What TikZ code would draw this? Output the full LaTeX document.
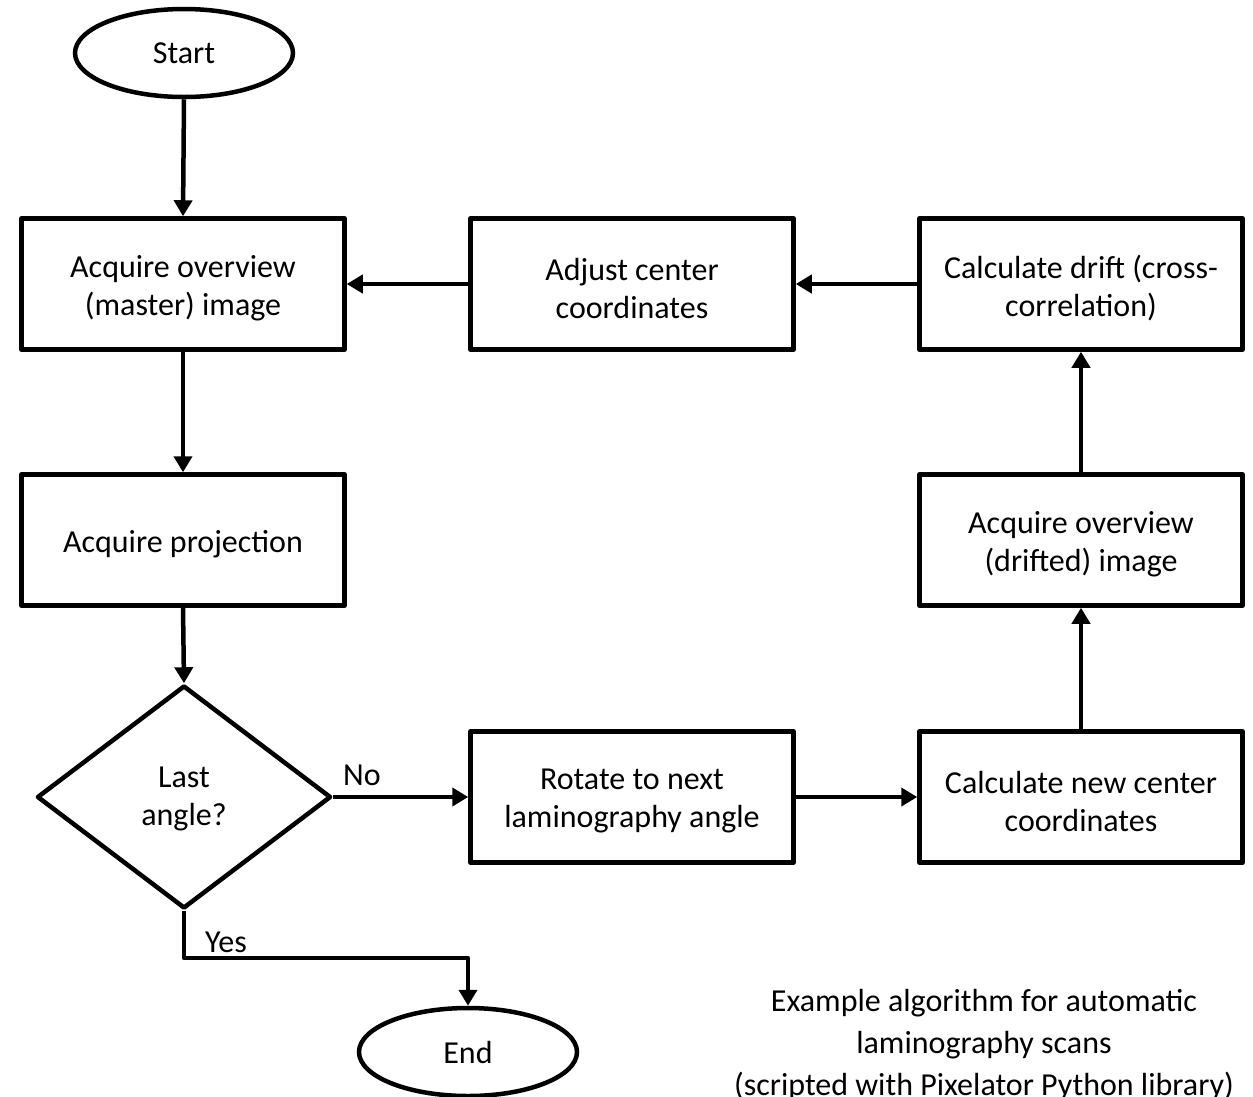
\documentclass[tikz,border=0pt]{standalone}
\usepackage{fontspec}
\setmainfont{Carlito}
\usetikzlibrary{shapes.geometric,arrows.meta}
\begin{document}
\begin{tikzpicture}[x=1pt,y=-1pt,
  every node/.style={font=\fontsize{32}{38}\selectfont},
  procbox/.style={draw,line width=4.5pt,line join=round,minimum width=323pt,minimum height=131pt,inner sep=0pt,
    label={[inner sep=0pt,align=center,yshift=-4pt]center:#1}},
  termnode/.style={draw,ellipse,line width=4.5pt,minimum width=218pt,minimum height=88pt,inner sep=0pt},
  decnode/.style={draw,diamond,line width=4.5pt,line join=round,minimum width=294pt,minimum height=223pt,inner sep=0pt,
    label={[inner sep=0pt,align=center,yshift=-2pt]center:#1}},
  conn/.style={line width=4.5pt,-{Triangle[length=16pt,width=18pt]}},
  lbl/.style={inner sep=0pt}]
\useasboundingbox (0,0) rectangle (1253,1096);
\node[termnode] (start) at (184,53) {Start};
\node[procbox={Acquire overview\\(master) image}] (master) at (183,284) {};
\node[procbox={Adjust center\\coordinates}] (adjust) at (632,284) {};
\node[procbox={Calculate drift (cross-\\correlation)}] (drift) at (1081,284) {};
\node[procbox={Acquire projection}] (proj) at (183,540) {};
\node[procbox={Acquire overview\\(drifted) image}] (drifted) at (1081,540) {};
\node[procbox={Rotate to next\\laminography angle}] (rotate) at (632,797) {};
\node[procbox={Calculate new center\\coordinates}] (newc) at (1081,797) {};
\node[decnode={Last\\angle?}] (last) at (184,797) {};
\node[termnode] (end) at (468,1052) {End};
\coordinate (yc1) at (184,958);
\coordinate (yc2) at (468,958);
\draw[conn] (start.south) -- (master.north);
\draw[conn] (master.south) -- (proj.north);
\draw[conn] (proj.south) -- (last.north);
\draw[conn] (adjust.west) -- (master.east);
\draw[conn] (drift.west) -- (adjust.east);
\draw[conn] (drifted.north) -- (drift.south);
\draw[conn] (newc.north) -- (drifted.south);
\draw[conn] (last.east) -- (rotate.west);
\draw[conn] (rotate.east) -- (newc.west);
\draw[conn,line join=round] (last.south) -- (yc1) -- (yc2) -- (end.north);
\node[lbl] (no) at (362,775) {No};
\node[lbl] (yes) at (226,942) {Yes};
\node[align=center,inner sep=0pt,font=\fontsize{32}{42}\selectfont] (caption) at (984,1045) {Example algorithm for automatic\\laminography scans\\(scripted with Pixelator Python library)};
\end{tikzpicture}
\end{document}
